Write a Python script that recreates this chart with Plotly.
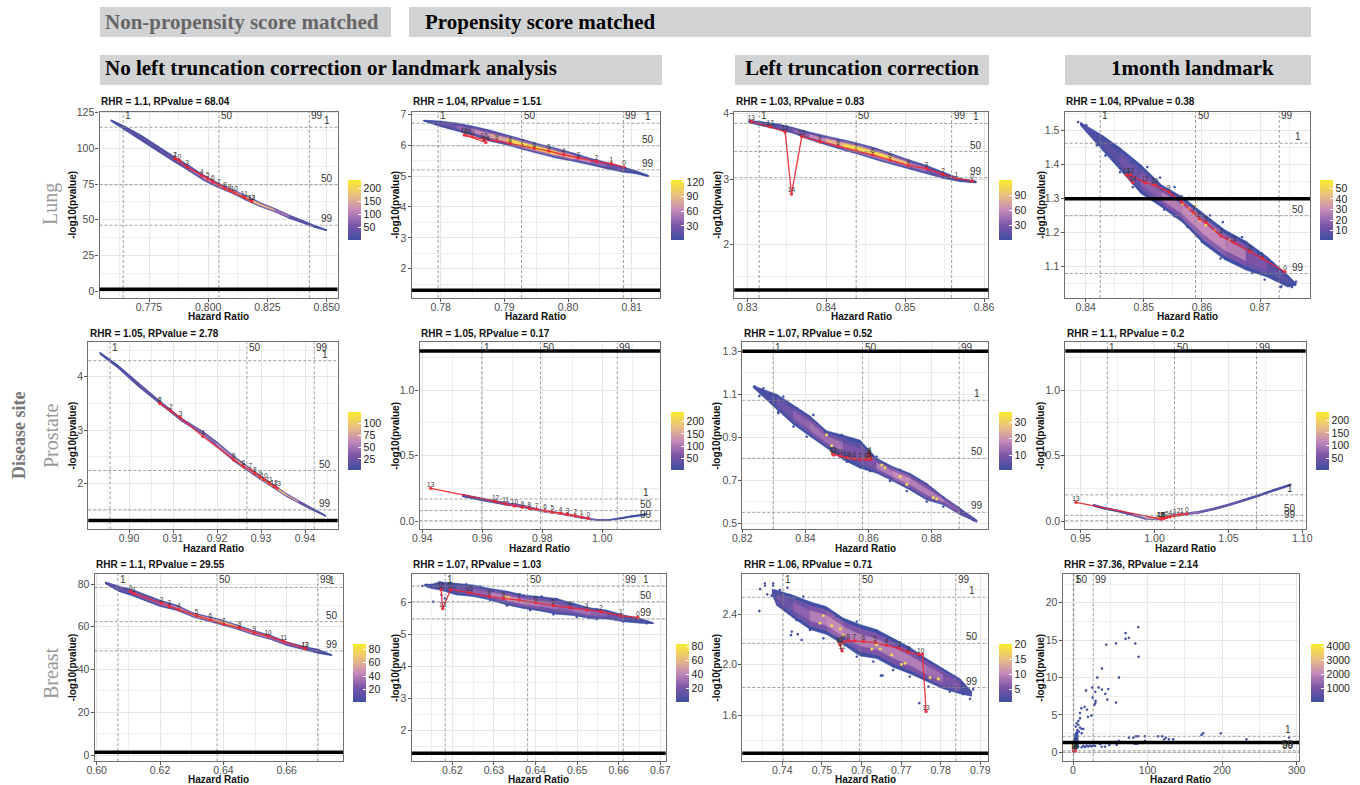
import plotly.graph_objects as go
from plotly.colors import sample_colorscale

W, H = 1360, 785
COLORSCALE = [[0, "#3F4FA3"], [0.25, "#7C55A8"], [0.5, "#C58ABA"], [0.75, "#EDC07E"], [1, "#F7EC2B"]]

TITLES = ["RHR = 1.1, RPvalue = 68.04", "RHR = 1.04, RPvalue = 1.51", "RHR = 1.03, RPvalue = 0.83", "RHR = 1.04, RPvalue = 0.38",
          "RHR = 1.05, RPvalue = 2.78", "RHR = 1.05, RPvalue = 0.17", "RHR = 1.07, RPvalue = 0.52", "RHR = 1.1, RPvalue = 0.2",
          "RHR = 1.1, RPvalue = 29.55", "RHR = 1.07, RPvalue = 1.03", "RHR = 1.06, RPvalue = 0.71", "RHR = 37.36, RPvalue = 2.14"]

# ---- Lung / no correction
a_x = [.759, .765, .772, .779, .786, .792, .798, .804, .810, .816, .822, .828, .834, .840, .845, .850]
a_lo = [119, 112.5, 105, 97.5, 90, 84, 77.5, 72.5, 68.5, 63.5, 59, 55.5, 51, 47.5, 44.5, 42.2]
a_hi = [120, 115.5, 109, 101.5, 94, 88, 81.5, 76, 71.5, 67, 62, 58, 53.5, 49.5, 46, 43]
a_n = [5, 15, 30, 40, 50, 70, 90, 140, 170, 160, 200, 120, 70, 30, 15, 3]
a_rx = [.7878, .786, .786, .7911, .7973, .7998, .8019, .8045, .807, .809, .811, .8153, .8183, .8183]
a_ry = [91.6, 93, 93, 87, 81, 78.5, 76.5, 74.2, 72, 70.5, 68.8, 65.5, 63, 63]
a_rl = list(range(14))
a_v = [.7641, .8045, .8427]
a_h = [114.8, 74.5, 46.1]

# ---- Lung / PS
b_x = [.7773, .780, .7825, .785, .7877, .7905, .793, .7955, .7982, .801, .8035, .806, .8087, .8105, .8126]
b_lo = [6.78, 6.6, 6.46, 6.32, 6.13, 6.0, 5.85, 5.72, 5.58, 5.47, 5.36, 5.24, 5.12, 5.08, 4.98]
b_hi = [6.81, 6.78, 6.72, 6.62, 6.49, 6.33, 6.18, 6.04, 5.9, 5.74, 5.58, 5.45, 5.3, 5.18, 5.03]
b_n = [2, 12, 30, 50, 70, 90, 120, 110, 100, 70, 50, 30, 12, 5, 2]
b_rx = [.8088, .8068, .8045, .8016, .7993, .797, .7947, .7928, .7909, .7888, .7868, .7849, .7841, .7837, .7871]
b_ry = [5.29, 5.40, 5.47, 5.58, 5.69, 5.81, 5.9, 5.98, 6.06, 6.14, 6.19, 6.28, 6.31, 6.33, 6.09]
b_rl = list(range(15))
b_v = [.7796, .7927, .8087]
b_h = [6.71, 5.98, 5.2]

# ---- Lung / left truncation
c_x = [.8302, .8337, .8358, .8379, .840, .8422, .8443, .8464, .8485, .8506, .8527, .8548, .8569, .859]
c_lo = [3.86, 3.76, 3.70, 3.60, 3.52, 3.44, 3.37, 3.29, 3.22, 3.15, 3.08, 3.01, 2.96, 2.94]
c_hi = [3.90, 3.85, 3.79, 3.72, 3.66, 3.60, 3.54, 3.47, 3.38, 3.29, 3.21, 3.11, 3.01, 2.97]
c_n = [3, 15, 25, 45, 70, 100, 110, 95, 120, 60, 40, 20, 6, 1]
c_rx = [.8585, .8565, .8548, .8527, .8504, .8481, .8459, .8438, .8415, .8392, .8369, .8356, .8348, .8329, .8305]
c_ry = [2.97, 3.01, 3.07, 3.16, 3.21, 3.29, 3.37, 3.43, 3.50, 3.57, 3.65, 2.77, 3.72, 3.80, 3.88]
c_rl = [0, 1, 2, 3, 4, 5, 6, 7, 8, 9, 10, 14, 11, 12, 13]
c_v = [.8315, .8438, .8559]
c_h = [3.85, 3.42, 3.02]

# ---- Lung / landmark
d_x = [.8391, .843, .8459, .8495, .8531, .8567, .8604, .864, .8676, .8712, .8748, .8762]
d_lo = [1.515, 1.44, 1.385, 1.315, 1.275, 1.23, 1.165, 1.12, 1.09, 1.07, 1.04, 1.045]
d_hi = [1.525, 1.485, 1.45, 1.40, 1.34, 1.305, 1.255, 1.208, 1.175, 1.13, 1.075, 1.052]
d_n = [3, 6, 12, 18, 30, 40, 45, 38, 30, 15, 5, 2]
d_rx = [.8743, .8704, .8683, .8656, .8633, .8607, .8596, .8586, .8565, .8543, .8519, .8502, .8477, .847, .8481]
d_ry = [1.085, 1.125, 1.144, 1.17, 1.19, 1.23, 1.24, 1.258, 1.29, 1.32, 1.34, 1.347, 1.37, 1.37, 1.347]
d_rl = list(range(15))
d_v = [.8425, .8589, .8733]
d_h = [1.463, 1.25, 1.08]
d_sx = [.8762, .8755, .8735, .8742, .8387, .8401, .8412, .8434, .8448, .8468, .8481, .8506, .8528, .8553, .8578, .8614, .8636, .8669, .8697, .8723,
        .8419, .8434, .8459, .8481, .8531, .8535, .8553, .8575, .86, .8632, .8661, .8687, .8708, .8737, .8755]
d_sy = [1.056, 1.04, 1.04, 1.055, 1.525, 1.516, 1.493, 1.476, 1.457, 1.432, 1.408, 1.393, 1.362, 1.334, 1.303, 1.251, 1.231, 1.187, 1.138, 1.109,
        1.457, 1.427, 1.378, 1.334, 1.28, 1.268, 1.248, 1.217, 1.173, 1.124, 1.109, 1.081, 1.062, 1.042, 1.05]
d_hotx = [.8578, .8586, .8596, .8607, .8622, .8647, .8589, .8567]
d_hoty = [1.2706, 1.256, 1.236, 1.222, 1.207, 1.178, 1.28, 1.285]

# ---- Prostate / no correction
e_x = [.8934, .8975, .902, .907, .912, .9169, .920, .9237, .9298, .9358, .9385, .9418, .9447]
e_lo = [4.42, 4.16, 3.82, 3.49, 3.16, 2.91, 2.68, 2.42, 2.07, 1.75, 1.63, 1.49, 1.38]
e_hi = [4.46, 4.22, 3.90, 3.55, 3.22, 2.97, 2.78, 2.52, 2.15, 1.81, 1.68, 1.53, 1.40]
e_n = [3, 10, 20, 25, 35, 40, 50, 70, 90, 110, 50, 15, 3]
e_rx = [.907, .907, .9095, .9117, .9168, .9238, .926, .9276, .9286, .9298, .9307, .9319, .933, .9337]
e_ry = [3.5, 3.5, 3.36, 3.23, 2.88, 2.44, 2.31, 2.25, 2.19, 2.12, 2.07, 2.0, 1.94, 1.91]
e_rl = list(range(14))
e_v = [.8957, .9268, .9421]
e_h = [4.30, 2.24, 1.5]

# ---- Prostate / PS
f_x = [.9534, .960, .967, .974, .980, .986, .992, .998, 1.002, 1.006, 1.010, 1.0148]
f_lo = [.185, .155, .125, .10, .07, .05, .025, .005, .005, .015, .03, .045]
f_hi = [.205, .175, .145, .12, .085, .065, .04, .012, .012, .025, .042, .055]
f_n = [10, 25, 50, 90, 160, 230, 120, 40, 15, 8, 5, 2]
f_rx = [.9953, .9931, .991, .9884, .9861, .9833, .9809, .9781, .9757, .9733, .9707, .9678, .9644, .9428]
f_ry = [.02, .03, .04, .05, .06, .068, .078, .09, .095, .105, .115, .13, .15, .25]
f_rl = list(range(14))
f_v = [.9598, .9794, 1.005]
f_h = [.168, .08, .002]

# ---- Prostate / left truncation
g_x = [.8235, .8309, .8362, .8414, .8467, .852, .8573, .8626, .8678, .8731, .8784, .8837, .889, .8943]
g_lo = [1.13, 1.03, .96, .905, .85, .795, .756, .733, .695, .655, .608, .586, .54, .505]
g_hi = [1.14, 1.10, 1.05, 1.0, .93, .91, .887, .802, .763, .733, .686, .625, .57, .515]
g_n = [2, 7, 12, 18, 22, 15, 10, 18, 26, 24, 20, 24, 10, 2]
g_rx = [.8608, .8605, .8603, .8601, .8603, .86, .8592, .8573, .8555, .8541, .853, .851, .849, .8486]
g_ry = [.797, .805, .81, .82, .826, .80, .797, .798, .80, .802, .806, .813, .818, .822]
g_rl = list(range(14))
g_v = [.8298, .8581, .8887]
g_h = [1.072, .802, .551]
g_sx = [.824, .8267, .8254, .8286, .8293, .8314, .833, .8372, .8425, .8462, .8515, .8552, .8626, .87, .8758, .8837, .8885,
        .8314, .8362, .8404, .8478, .8531, .8605, .8668, .8721, .8784, .8837, .8932]
g_sy = [1.136, 1.128, 1.092, 1.1, 1.058, 1.012, 1.089, 1.035, 1.004, .926, .911, .883, .81, .748, .702, .619, .573,
        1.019, .95, .903, .846, .787, .743, .697, .65, .601, .578, .515]
g_hotx = [.87, .8721, .8816, .8805, .8652, .8642, .8467, .8483]
g_hoty = [.717, .681, .613, .619, .759, .771, .911, .861]

# ---- Prostate / landmark
h_x = [.9586, .966, .975, .985, .994, 1.002, 1.010, 1.02, 1.03, 1.04, 1.05, 1.06, 1.07, 1.08, 1.0923]
h_lo = [.112, .09, .07, .04, .012, .012, .03, .045, .06, .085, .115, .15, .185, .225, .27]
h_hi = [.128, .105, .085, .055, .022, .03, .045, .06, .075, .10, .13, .165, .20, .24, .285]
h_n = [8, 20, 40, 60, 110, 200, 230, 120, 80, 70, 60, 45, 25, 12, 3]
h_rx = [1.0219, 1.0185, 1.0162, 1.0133, 1.0106, 1.0083, 1.0065, 1.006, 1.0055, 1.005, 1.0045, 1.004, 1.0038, .9468]
h_ry = [.054, .05, .046, .041, .033, .026, .02, .019, .018, .017, .017, .016, .016, .143]
h_rl = list(range(14))
h_v = [.968, 1.0135, 1.069]
h_h = [.2, .043, .002]

# ---- Breast / no correction
i_x = [.6028, .607, .6111, .62, .6255, .6305, .639, .644, .6495, .655, .66, .6663, .670, .6742]
i_lo = [80, 76.5, 74.5, 69.5, 67.5, 64.5, 61, 59, 56.2, 54, 51.2, 48.9, 47.5, 46.5]
i_hi = [81, 79, 77.5, 72.5, 70, 66.5, 63.5, 61, 58.3, 56, 53, 50.5, 49.5, 47]
i_n = [3, 15, 20, 30, 50, 45, 80, 60, 55, 40, 30, 25, 10, 2]
i_rx = [.6107, .6118, .6205, .6229, .6259, .6315, .6359, .6401, .6451, .6498, .6541, .6591, .6658, .6658]
i_ry = [76.5, 75.5, 71, 69.5, 68, 65.2, 63.2, 61.2, 59.5, 57.2, 55.6, 53, 49.8, 49.8]
i_rl = list(range(14))
i_v = [.6067, .638, .6698]
i_h = [78.4, 62.4, 48.7]

# ---- Breast / PS
j_x = [.6134, .615, .617, .621, .625, .6291, .6331, .6371, .6411, .6451, .6491, .6531, .6571, .6611, .6651, .6683]
j_lo = [6.5, 6.42, 6.37, 6.22, 6.17, 6.06, 5.91, 5.8, 5.72, 5.62, 5.58, 5.49, 5.47, 5.39, 5.34, 5.33]
j_hi = [6.56, 6.55, 6.63, 6.58, 6.53, 6.42, 6.34, 6.22, 6.17, 6.11, 5.96, 5.82, 5.75, 5.6, 5.49, 5.36]
j_n = [2, 8, 15, 15, 25, 45, 60, 50, 45, 35, 40, 40, 30, 15, 6, 2]
j_rx = [.6646, .6605, .6557, .6523, .6483, .6443, .6401, .6361, .6324, .6289, .6241, .6196, .6177, .6173]
j_ry = [5.52, 5.57, 5.7, 5.75, 5.83, 5.89, 5.98, 6.06, 6.11, 6.17, 6.29, 6.39, 5.8, 6.39]
j_rl = [0, 1, 2, 3, 4, 5, 6, 7, 8, 9, 10, 11, 13, 12]
j_v = [.6183, .6381, .6611]
j_h = [6.49, 6.01, 5.47]
j_sx = [.6154, .6174, .6182, .6128, .6142, .615, .617, .6234, .6267, .6299, .6371, .6415, .6451, .6491, .6547, .6595, .6627, .6667,
        .6291, .6331, .6387, .6443, .6499, .6547, .6611]
j_sy = [6.01, 6.22, 6.11, 6.5, 6.47, 6.53, 6.61, 6.55, 6.48, 6.34, 6.2, 6.17, 6.09, 5.93, 5.78, 5.6, 5.41, 5.34,
        6.06, 5.89, 5.75, 5.62, 5.54, 5.47, 5.39]
j_hotx = [.6335, .6327]
j_hoty = [6.13, 6.17]

# ---- Breast / left truncation
k_x = [.7375, .7386, .7428, .747, .7512, .7554, .7596, .7638, .768, .7722, .7764, .7806, .7849, .7878]
k_lo = [2.55, 2.47, 2.37, 2.28, 2.24, 2.16, 2.07, 2.05, 1.98, 1.93, 1.87, 1.81, 1.77, 1.75]
k_hi = [2.6, 2.59, 2.55, 2.50, 2.46, 2.37, 2.32, 2.28, 2.21, 2.14, 2.05, 1.97, 1.89, 1.79]
k_n = [1, 3, 7, 10, 14, 14, 12, 11, 13, 13, 11, 11, 4, 1]
k_rx = [.7763, .7754, .7745, .7718, .7695, .7663, .7634, .7605, .7582, .7567, .7554, .7544, .7546, .7551]
k_ry = [1.63, 2.083, 2.083, 2.10, 2.13, 2.157, 2.176, 2.184, 2.19, 2.19, 2.18, 2.17, 2.157, 2.11]
k_rl = [13, 0, 1, 2, 3, 4, 5, 6, 7, 8, 9, 10, 11, 12]
k_v = [.7402, .7595, .7838]
k_h = [2.535, 2.17, 1.82]
k_sx = [.7344, .7356, .7356, .7377, .7377, .7362, .7373, .7342, .7424, .7422, .7439, .7449, .7649, .7653, .7746, .7882, .7874, .7413,
        .7394, .7419, .7453, .7504, .7537, .7588, .7621, .7655, .7697, .7748, .7798, .784,
        .7407, .7436, .747, .7504, .755, .7588, .763, .768, .7722, .7769, .7823, .7857]
k_sy = [2.60, 2.645, 2.627, 2.645, 2.627, 2.558, 2.548, 2.426, 2.263, 2.236, 2.242, 2.197, 1.915, 1.915, 1.696, 1.806, 1.73, 2.611,
        2.593, 2.553, 2.54, 2.461, 2.382, 2.342, 2.276, 2.236, 2.178, 2.065, 1.973, 1.88,
        2.434, 2.355, 2.276, 2.21, 2.118, 2.065, 2.025, 1.959, 1.907, 1.827, 1.788, 1.767]
k_hotx = [.7504, .7525, .7546, .7554, .7495, .7626, .7647, .7676, .771, .7701, .7773, .7794, .7638]
k_hoty = [2.389, 2.31, 2.284, 2.236, 2.329, 2.123, 2.126, 2.078, 2.012, 2.004, 1.899, 1.888, 2.157]

# ---- Breast / landmark
l_x = [.3, 3, 6.5]
l_lo = [0, .2, .7]
l_hi = [1.3, 2.6, 3.0]
l_n = [100, 120, 40]
l_rx = [.8, 1.0, 1.2, 1.4, 1.6, 1.8, 2.0, 2.1, 2.2, 2.3, 2.4, 2.5, 2.6, 2.7]
l_ry = [.2, .2, .25, .2, .25, .2, .25, .2, .2, .25, .2, .2, .25, .2]
l_rl = list(range(14))
l_v = [.4, 1, 27.2]
l_h = [2.14, .2, 0]
l_sx = [87.5, 70.5, 70.5, 75, 44.6, 57.6, 83.5, 88, 38.8, 32.6, 61.6, 34.4, 25.9, 38.8, 47.3, 43.3, 17.4, 29.9, 26.3, 46, 57.6, 30.4, 29.9, 28.6,
        15.6, 11.2, 18.8, 9.4, 24.6, 20, 9.4, 7.1, 4.9, 7.1, 3.6, 9.4, 11.6, 13.8, 5.8, 8, 11.6, 4.9, 2.7, 4, 1.3,
        289.7, 232.6, 198.2, 174.6, 172.3, 134.4, 128.6, 124.6, 122.3, 119.6, 113.8, 96.4, 87.5, 84.4, 80.8, 75, 61.6, 58.5, 96.4, 86.2, 83,
        48.7, 42.9, 38.4, 36.2, 7, 11.6, 13.8, 16, 18.3, 20.5, 22.8, 25, 27.2, 29.5]
l_sy = [16.74, 15.94, 15.18, 15.3, 14.4, 14.55, 14.55, 12.77, 11.2, 10, 10, 8.66, 8.66, 8.39, 8.44, 7.81, 8.26, 8.08, 7.32, 7.05, 6.65, 6.88, 6.56, 6.34,
        6.07, 5.89, 5.71, 5.27, 4.91, 4.73, 4.55, 4.2, 3.88, 3.66, 3.44, 3.3, 3.13, 3.13, 3, 2.77, 2.54, 2.32, 1.88, 1.52, 1.2,
        1.96, 1.74, 2.54, 2.54, 2.32, 1.74, 1.74, 1.96, 1.74, 2.14, 2.14, 2.14, 2.14, 2.14, 1.96, 1.96, 1.52, .98, 1.52, 1.12, 1.12,
        .98, .76, .76, 1.12, .76, .67, .85, .71, .89, .76, .89, .8, .89, .85]

BANDS = [(a_x, a_lo, a_hi, a_n), (b_x, b_lo, b_hi, b_n), (c_x, c_lo, c_hi, c_n), (d_x, d_lo, d_hi, d_n),
         (e_x, e_lo, e_hi, e_n), (f_x, f_lo, f_hi, f_n), (g_x, g_lo, g_hi, g_n), (h_x, h_lo, h_hi, h_n),
         (i_x, i_lo, i_hi, i_n), (j_x, j_lo, j_hi, j_n), (k_x, k_lo, k_hi, k_n), (l_x, l_lo, l_hi, l_n)]
REDS = [(a_rx, a_ry, a_rl), (b_rx, b_ry, b_rl), (c_rx, c_ry, c_rl), (d_rx, d_ry, d_rl),
        (e_rx, e_ry, e_rl), (f_rx, f_ry, f_rl), (g_rx, g_ry, g_rl), (h_rx, h_ry, h_rl),
        (i_rx, i_ry, i_rl), (j_rx, j_ry, j_rl), (k_rx, k_ry, k_rl), (l_rx, l_ry, l_rl)]
VS = [a_v, b_v, c_v, d_v, e_v, f_v, g_v, h_v, i_v, j_v, k_v, l_v]
HS = [a_h, b_h, c_h, d_h, e_h, f_h, g_h, h_h, i_h, j_h, k_h, l_h]
STRAYS = {3: (d_sx, d_sy), 6: (g_sx, g_sy), 9: (j_sx, j_sy), 10: (k_sx, k_sy), 11: (l_sx, l_sy)}
HOT = {3: (d_hotx, d_hoty), 6: (g_hotx, g_hoty), 9: (j_hotx, j_hoty), 10: (k_hotx, k_hoty)}
HLABX = [.85, .8125, .859, .8766, .9445, 1.0145, .8945, 1.0915, .6742, .6665, .7878, 288]
WIDE = (3, 6, 9, 10)

XT = [([.775, .8, .825, .85], ["0.775", "0.800", "0.825", "0.850"]),
      ([.78, .79, .8, .81], ["0.78", "0.79", "0.80", "0.81"]),
      ([.83, .84, .85, .86], ["0.83", "0.84", "0.85", "0.86"]),
      ([.84, .85, .86, .87], ["0.84", "0.85", "0.86", "0.87"]),
      ([.9, .91, .92, .93, .94], ["0.90", "0.91", "0.92", "0.93", "0.94"]),
      ([.94, .96, .98, 1.0], ["0.94", "0.96", "0.98", "1.00"]),
      ([.82, .84, .86, .88], ["0.82", "0.84", "0.86", "0.88"]),
      ([.95, 1.0, 1.05, 1.1], ["0.95", "1.00", "1.05", "1.10"]),
      ([.6, .62, .64, .66], ["0.60", "0.62", "0.64", "0.66"]),
      ([.62, .63, .64, .65, .66, .67], ["0.62", "0.63", "0.64", "0.65", "0.66", "0.67"]),
      ([.74, .75, .76, .77, .78, .79], ["0.74", "0.75", "0.76", "0.77", "0.78", "0.79"]),
      ([0, 100, 200, 300], ["0", "100", "200", "300"])]
YT = [([0, 25, 50, 75, 100, 125], ["0", "25", "50", "75", "100", "125"]),
      ([2, 3, 4, 5, 6, 7], ["2", "3", "4", "5", "6", "7"]),
      ([2, 3, 4], ["2", "3", "4"]),
      ([1.1, 1.2, 1.3, 1.4, 1.5], ["1.1", "1.2", "1.3", "1.4", "1.5"]),
      ([2, 3, 4], ["2", "3", "4"]),
      ([0, .5, 1], ["0.0", "0.5", "1.0"]),
      ([.5, .7, .9, 1.1, 1.3], ["0.5", "0.7", "0.9", "1.1", "1.3"]),
      ([0, .5, 1], ["0.0", "0.5", "1.0"]),
      ([0, 20, 40, 60, 80], ["0", "20", "40", "60", "80"]),
      ([2, 3, 4, 5, 6], ["2", "3", "4", "5", "6"]),
      ([1.6, 2, 2.4], ["1.6", "2.0", "2.4"]),
      ([0, 5, 10, 15, 20], ["0", "5", "10", "15", "20"])]
CB_TICKS = [[50, 100, 150, 200], [30, 60, 90, 120], [30, 60, 90], [10, 20, 30, 40, 50],
            [25, 50, 75, 100], [50, 100, 150, 200], [10, 20, 30], [50, 100, 150, 200],
            [20, 40, 60, 80], [20, 40, 60, 80], [5, 10, 15, 20], [1000, 2000, 3000, 4000]]
CB_MAX = [232, 124, 121, 58, 124, 238, 36, 232, 88, 83, 20, 4150]

# layout geometry in page pixels ---------------------------------------------
FRAMES = [(99.5, 337.5, 111.5, 298), (411.7, 660, 111.5, 298), (734.3, 988.3, 111.5, 298), (1064.7, 1310, 111.5, 298),
          (88.3, 337.7, 342.3, 529.3), (419.5, 660, 342.3, 529.3), (742.3, 988.3, 342.3, 529.3), (1065.3, 1305.7, 342.3, 529.3),
          (94.7, 343, 574, 761.3), (411.7, 665.7, 574, 761.3), (742.3, 988.3, 574, 761.3), (1062.7, 1299, 574, 761.3)]
XCAL = [(149, 326.7), (440.7, 631.7), (747.3, 984), (1085.7, 1260), (129, 305), (422.3, 602.3), (742.3, 931.7), (1080.7, 1302.3),
        (96.7, 286.7), (452.3, 660.3), (782.3, 980.3), (1073, 1296.7)]
YCAL = [(291, 112.7), (268.7, 114.3), (244.3, 113.7), (266.7, 130.7), (483.3, 376.7), (521, 390.3), (523.3, 351.3), (521, 390.3),
        (755, 584), (730.7, 602), (715.3, 614.3), (752.3, 602.7)]
CB_X = [348, 671, 999, 1320, 347.7, 671, 999, 1316, 353.3, 676, 999, 1310.7]
YT_X = [73, 396, 718, 1042, 72.7, 396, 717, 1040.7, 72.7, 396, 717, 1041]
ROW_TITLE_Y = [101.5, 333.5, 564.5]
ROW_XT_Y = [316, 548, 779]
ROW_TOP_LAB = [116, 347.7, 579]
ROW_CB = [(180, 240), (412.3, 470.3), (644, 702)]

def px(v): return v / W
def py(v): return 1 - v / H

fig = go.Figure()
layout = {}
shapes, annos = [], []

def add_rect(l, r, t, b):
    shapes.append(dict(type="rect", xref="paper", yref="paper", x0=px(l), x1=px(r), y0=py(b), y1=py(t),
                       fillcolor="#D2D3D4", line_width=0, layer="below"))

def text(s, x, y, size, color, family="Liberation Sans", bold=False, anchor="center", angle=0):
    annos.append(dict(text=f"<b>{s}</b>" if bold else s, x=px(x), y=py(y), xref="paper", yref="paper", showarrow=False,
                      xanchor=anchor, yanchor="middle", textangle=angle, borderpad=0,
                      font=dict(size=size, color=color, family=family)))

SERIF = "Liberation Serif"
add_rect(100, 391, 7, 37)
add_rect(409, 1311, 7, 37)
add_rect(100, 662, 55, 85)
add_rect(735, 989, 55, 85)
add_rect(1065, 1311, 55, 85)
text("Non-propensity score matched", 104, 22.5, 21, "#666666", SERIF, True, "left")
text("Propensity score matched", 424, 22.5, 21, "#000000", SERIF, True, "left")
text("No left truncation correction or landmark analysis", 104, 68, 21, "#000000", SERIF, True, "left")
text("Left truncation correction", 862, 68, 21, "#000000", SERIF, True)
text("1month landmark", 1192, 68, 21, "#000000", SERIF, True)
text("Disease site", 19, 436, 18, "#777777", SERIF, True, angle=-90)
text("Lung", 51, 204, 20, "#999999", SERIF, angle=-90)
text("Prostate", 51, 436, 20, "#999999", SERIF, angle=-90)
text("Breast", 51, 673, 20, "#999999", SERIF, angle=-90)

def colour(t):
    return sample_colorscale(COLORSCALE, [min(1, max(0, t))])[0]

def add_layer(xa, ya, xs, lo, hi, ns, frac, gain, cmax):
    bins = {}
    for i in range(len(xs) - 1):
        m0, m1 = (lo[i] + hi[i]) / 2, (lo[i + 1] + hi[i + 1]) / 2
        d0, d1 = (hi[i] - lo[i]) / 2 * frac, (hi[i + 1] - lo[i + 1]) / 2 * frac
        t = gain * (ns[i] + ns[i + 1]) / 2 / cmax
        key = round(t * 16)
        b = bins.setdefault(key, ([], []))
        b[0].extend([xs[i], xs[i + 1], xs[i + 1], xs[i], xs[i], None])
        b[1].extend([m0 - d0, m1 - d1, m1 + d1, m0 + d0, m0 - d0, None])
    for key, (bx, by) in bins.items():
        c = colour(key / 16)
        fig.add_trace(go.Scatter(x=bx, y=by, mode="lines", fill="toself", fillcolor=c, line=dict(color=c, width=0.5),
                                 xaxis=xa, yaxis=ya, hoverinfo="skip", showlegend=False))

for k in range(12):
    idx = "" if k == 0 else str(k + 1)
    xa, ya = "x" + idx, "y" + idx
    L, R, T, B = FRAMES[k]
    xv, xt = XT[k]
    yv, yt = YT[k]
    x1p, x2p = XCAL[k]
    y1p, y2p = YCAL[k]
    xv1, xv2 = xv[0], xv[-1]
    xs = (xv2 - xv1) / (x2p - x1p)
    yv1, yv2 = yv[0], yv[-1]
    ys = (yv2 - yv1) / (y1p - y2p)
    xr = [xv1 + (L - x1p) * xs, xv1 + (R - x1p) * xs]
    yr = [yv1 - (B - y1p) * ys, yv1 + (y1p - T) * ys]
    axis = dict(showline=True, mirror=True, linecolor="#6F6F6F", linewidth=1.3, ticks="outside", ticklen=3, tickwidth=0.8,
                tickcolor="#555555", tickfont=dict(size=10.5, color="#4D4D4D", family="Liberation Sans"),
                showgrid=True, gridcolor="#E6E6E6", gridwidth=1.3, zeroline=False, tickmode="array", fixedrange=True)
    minor = dict(tickmode="linear", showgrid=True, gridcolor="#EEEEEE", gridwidth=0.7, ticks="")
    layout["xaxis" + idx] = dict(axis, domain=[px(L), px(R)], range=xr, tickvals=xv, ticktext=xt, anchor=ya, ticklabelstandoff=-4,
                                 minor=dict(minor, tick0=xv[0], dtick=(xv[1] - xv[0]) / 2))
    layout["yaxis" + idx] = dict(axis, domain=[py(B), py(T)], range=yr, tickvals=yv, ticktext=yt, anchor=xa, ticklabelstandoff=-1,
                                 minor=dict(minor, tick0=yv[0], dtick=(yv[1] - yv[0]) / 2))

    bx, lo, hi, ns = BANDS[k]
    cmax = CB_MAX[k]
    add_layer(xa, ya, bx, lo, hi, ns, 1.0, 0.02, cmax)
    add_layer(xa, ya, bx, lo, hi, ns, 0.74, 0.42, cmax)
    add_layer(xa, ya, bx, lo, hi, ns, 0.36, 0.72 if k in WIDE else 1.0, cmax)

    if k in STRAYS:
        sx, sy = STRAYS[k]
        fig.add_trace(go.Scatter(x=sx, y=sy, mode="markers", marker=dict(size=2.8, color="#3F4FA3", symbol="hexagon"),
                                 xaxis=xa, yaxis=ya, hoverinfo="skip", showlegend=False))
    if k in HOT:
        hx, hy = HOT[k]
        fig.add_trace(go.Scatter(x=hx, y=hy, mode="markers", marker=dict(size=3.2, color="#F3DC55", symbol="hexagon"),
                                 xaxis=xa, yaxis=ya, hoverinfo="skip", showlegend=False))

    rx, ry, rl = REDS[k]
    fig.add_trace(go.Scatter(x=rx, y=ry, mode="lines+markers", line=dict(color="#EE2533", width=1.3),
                             marker=dict(size=3.4, color="#EE2533"), opacity=0.92,
                             xaxis=xa, yaxis=ya, hoverinfo="skip", showlegend=False))
    fig.add_trace(go.Scatter(x=rx, y=ry, mode="text", text=[str(v) for v in rl], textposition="top center",
                             textfont=dict(size=6.5, color="#333333", family="Liberation Sans"),
                             xaxis=xa, yaxis=ya, hoverinfo="skip", showlegend=False))

    # colour bar
    c0, c1 = ROW_CB[k // 4]
    fig.add_trace(go.Scatter(x=[bx[0]], y=[lo[0]], mode="markers", xaxis=xa, yaxis=ya, hoverinfo="skip", showlegend=False,
                             marker=dict(size=1, opacity=0, color=[cmax], cmin=1, cmax=cmax, colorscale=COLORSCALE, showscale=True,
                                         colorbar=dict(x=px(CB_X[k]), xanchor="left", xpad=0, y=py(c1), yanchor="bottom", ypad=0,
                                                       len=(c1 - c0) / H, lenmode="fraction", thickness=12.5, thicknessmode="pixels",
                                                       outlinewidth=0, ticks="inside", ticklen=3, tickwidth=1, tickcolor="#FFFFFF",
                                                       tickmode="array", tickvals=CB_TICKS[k], ticktext=[str(v) for v in CB_TICKS[k]],
                                                       tickfont=dict(size=10.5, color="#222222", family="Liberation Sans")))))

    # percentile rules
    DASH = dict(color="#858585", width=0.8, dash="3px,2px")
    for v, lab in zip(VS[k], ["1", "50", "99"]):
        shapes.append(dict(type="line", xref=xa, yref=ya + " domain", x0=v, x1=v, y0=0, y1=1, line=DASH, layer="above"))
        annos.append(dict(text=lab, x=v, xref=xa, y=py(ROW_TOP_LAB[k // 4]), yref="paper", showarrow=False, xanchor="left", xshift=0,
                          yanchor="middle", font=dict(size=10, color="#333333", family="Liberation Sans")))
    for v, lab in zip(HS[k], ["1", "50", "99"]):
        shapes.append(dict(type="line", xref=xa + " domain", yref=ya, x0=0, x1=1, y0=v, y1=v, line=DASH, layer="above"))
        annos.append(dict(text=lab, x=HLABX[k], xref=xa, y=v, yref=ya, yshift=6.5, showarrow=False, xanchor="center",
                          yanchor="middle", font=dict(size=10, color="#333333", family="Liberation Sans")))
    shapes.append(dict(type="line", xref=xa + " domain", yref=ya, x0=0, x1=1, y0=1.3, y1=1.3,
                       line=dict(color="#000000", width=3.5), layer="above"))

    text(TITLES[k], L + 0.5, ROW_TITLE_Y[k // 4], 10, "#111111", bold=True, anchor="left")
    text("Hazard Ratio", (L + R) / 2, ROW_XT_Y[k // 4], 10, "#111111", bold=True)
    text("-log10(pvalue)", YT_X[k], (T + B) / 2, 10, "#111111", bold=True, angle=-90)

fig.update_layout(width=W, height=H, margin=dict(l=0, r=0, t=0, b=0, pad=0, autoexpand=False), plot_bgcolor="#FFFFFF", paper_bgcolor="#FFFFFF",
                  showlegend=False, shapes=shapes, annotations=annos, **layout)
fig.write_html("out.html", post_script="document.body.style.margin='0';document.documentElement.style.overflow='hidden';",
               config=dict(displayModeBar=False))
